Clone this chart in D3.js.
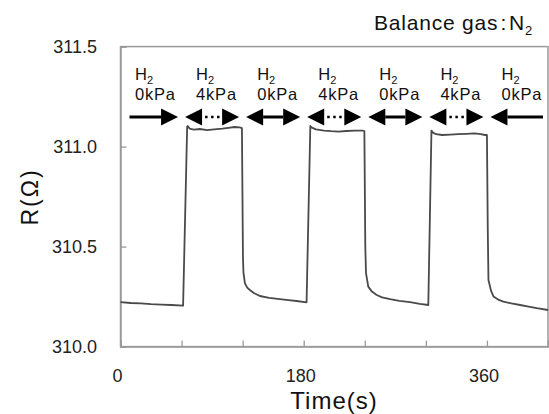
<!DOCTYPE html>
<html><head><meta charset="utf-8">
<script src="https://cdn.jsdelivr.net/npm/d3@7/dist/d3.min.js"></script>
<style>body{margin:0;background:#fff}svg{display:block}</style>
</head><body>
<svg id="c" width="549" height="414"></svg>
<script>
// ---- data ----
const times = [0,10,20,30,40,50,61.5,65.5,66,68,72,78,85,92,100,106,112,117,119.3,120.3,120.8,122.2,124.5,127.1,131,136.9,146,156.6,165,173,182.8,
  186.5,188,192,200,207,214,222,230,238,239.6,240.5,241.2,243.4,247,251.7,257,264.8,274,284.5,294,302.4,
  305.5,307,310,316,324,332,340,348,354,358,360,360.8,361.5,364,366.5,371,376.2,384,392.6,401,409,420];
const values = [310.222,310.218,310.216,310.212,310.21,310.208,310.205,311.10,311.103,311.09,311.085,311.088,311.082,311.086,311.09,311.094,311.098,311.096,311.092,310.45,310.37,310.317,310.295,310.283,310.268,310.253,310.244,310.237,310.232,310.228,310.221,
  311.103,311.095,311.086,311.08,311.077,311.075,311.078,311.08,311.08,311.078,310.5,310.367,310.30,310.275,310.258,310.246,310.237,310.229,310.222,310.214,310.208,
  311.08,311.07,311.062,311.058,311.06,311.062,311.064,311.066,311.062,311.058,311.058,310.6,310.333,310.28,310.25,310.235,310.225,310.216,310.208,310.2,310.192,310.183];
const xTicks = [0,60,120,180,240,300,360,420];
const xTickLabels = [0,180,360];
const yTicks = [310.0,310.5,311.0,311.5];
const phaseStarts = [0,60,120,180,240,300,360];
const phaseEnds = [60,120,180,240,300,360,420];
const phasePressure = ["0kPa","4kPa","0kPa","4kPa","0kPa","4kPa","0kPa"];
const phaseArrow = ["right","dotted","double","dotted","double","dotted","left"];

// ---- layout ----
const svg = d3.select("#c");
const L = 120.5, R = 548, T = 46.6, B = 346.6;
const x = d3.scaleLinear().domain([0,420]).range([L,R]);
const y = d3.scaleLinear().domain([310,311.5]).range([B,T]);
const axisCol = "#9a9a9a";
const font = "Liberation Sans, Arial, sans-serif";

// plot frame
svg.append("rect").attr("x",L).attr("y",T).attr("width",R-L).attr("height",B-T)
  .attr("fill","none").attr("stroke",axisCol).attr("stroke-width",1.5);

// axes with inward ticks
const gx = svg.append("g").attr("transform",`translate(0,${B})`)
  .call(d3.axisBottom(x).tickValues(xTicks).tickSize(-6).tickFormat(""));
const gy = svg.append("g").attr("transform",`translate(${L},0)`)
  .call(d3.axisLeft(y).tickValues(yTicks).tickSize(-6).tickFormat(""));
[gx,gy].forEach(g=>{g.select(".domain").attr("stroke",axisCol).attr("stroke-width",1.5);
  g.selectAll(".tick line").attr("stroke",axisCol).attr("stroke-width",1.3);});

// tick labels
svg.append("g").selectAll("text").data(yTicks).join("text")
  .attr("x",97).attr("y",d=>y(d)).attr("dy","0.36em").attr("text-anchor","end")
  .attr("font-family",font).attr("font-size",18).attr("fill","#222")
  .text(d=>d.toFixed(1));
svg.append("g").selectAll("text").data(xTickLabels).join("text")
  .attr("x",d=>x(d)-3).attr("y",382).attr("text-anchor","middle")
  .attr("font-family",font).attr("font-size",18).attr("fill","#222")
  .text(d=>d);

// axis titles
svg.append("text").attr("x",334).attr("y",409).attr("text-anchor","middle")
  .attr("font-family",font).attr("font-size",24).attr("fill","#111")
  .attr("letter-spacing",1)
  .text("Time(s)");
svg.append("text").attr("transform","translate(38,197) rotate(-90)").attr("text-anchor","middle")
  .attr("font-family",font).attr("font-size",23).attr("fill","#111")
  .attr("letter-spacing",2)
  .text("R(Ω)");

// balance gas
const bg = svg.append("text").attr("x",374).attr("y",30)
  .attr("font-family",font).attr("font-size",21).attr("fill","#111")
  .attr("letter-spacing",0.8);
bg.append("tspan").text("Balance gas");
bg.append("tspan").attr("dx",2).text(":");
bg.append("tspan").attr("dx",2).text("N");
bg.append("tspan").attr("font-size",13).attr("dy",5).text("2");

// data line
const line = d3.line().x((d,i)=>x(times[i])).y(d=>y(d));
svg.append("path").datum(values).attr("d",line).attr("fill","none")
  .attr("stroke","#4a4a4a").attr("stroke-width",1.8).attr("stroke-linejoin","round");

// phase labels
phaseStarts.forEach((s,i)=>{
  const cx = x((s+phaseEnds[i])/2) - 16;
  const h = svg.append("text").attr("x",cx).attr("y",80).attr("font-family",font)
    .attr("font-size",16.5).attr("fill","#111");
  h.append("tspan").text("H");
  h.append("tspan").attr("font-size",11).attr("dy",4).text("2");
  svg.append("text").attr("x",cx).attr("y",100).attr("font-family",font).attr("font-size",16.5)
    .attr("letter-spacing",0.8).attr("fill","#111").text(phasePressure[i]);
});

// arrows
const ay = 117, hw = 17, hh = 8.5, pad = 3.5;
function head(px, dir){ // dir=1 right-pointing tip at px
  svg.append("path").attr("d",`M${px},${ay} L${px-dir*hw},${ay-hh} L${px-dir*hw},${ay+hh} Z`).attr("fill","#000");
}
phaseStarts.forEach((s,i)=>{
  const x0 = x(s) + (i===0 ? 9 : pad);
  const x1 = x(phaseEnds[i]) - (i===phaseStarts.length-1 ? 5 : pad);
  const t = phaseArrow[i];
  const leftHead = (t!=="right"), rightHead = (t!=="left");
  const lx0 = leftHead ? x0+hw : x0, lx1 = rightHead ? x1-hw : x1;
  const ln = svg.append("line").attr("x1",lx0).attr("x2",lx1).attr("y1",ay).attr("y2",ay).attr("stroke","#000");
  if (t==="dotted") ln.attr("stroke-width",2.5).attr("stroke-dasharray","2.5,3.5").attr("x1",lx0+3);
  else ln.attr("stroke-width",3);
  if (leftHead) head(x0,-1);
  if (rightHead) head(x1,1);
});
</script>
</body></html>
